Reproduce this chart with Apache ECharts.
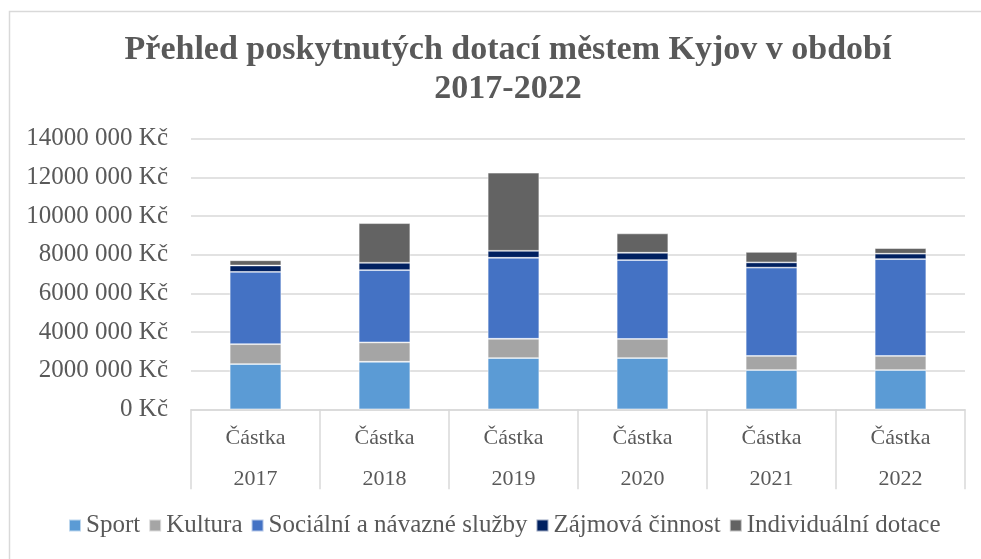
<!DOCTYPE html>
<html>
<head>
<meta charset="utf-8">
<script src="https://cdn.jsdelivr.net/npm/echarts@6/dist/echarts.min.js"></script>
<style>
html,body{margin:0;padding:0;background:#fff;}
#c{width:981px;height:559px;}
</style>
</head>
<body>
<div id="c"></div>
<script>
const years = ['2017', '2018', '2019', '2020', '2021', '2022'];
const rowLabel = 'Částka';
const sport = [2340000, 2460000, 2650000, 2650000, 2030000, 2030000];
const kultura = [1030000, 1000000, 1000000, 990000, 730000, 730000];
const socialni = [3740000, 3740000, 4190000, 4080000, 4570000, 5010000];
const zajmova = [330000, 380000, 360000, 380000, 270000, 280000];
const individualni = [270000, 2050000, 4040000, 1000000, 540000, 290000];
const seriesNames = ['Sport', 'Kultura', 'Sociální a návazné služby', 'Zájmová činnost', 'Individuální dotace'];
const seriesColors = ['#5B9BD5', '#A5A5A5', '#4472C4', '#002060', '#636363'];
const yTicks = [0, 2000000, 4000000, 6000000, 8000000, 10000000, 12000000, 14000000];

const values = [sport, kultura, socialni, zajmova, individualni];
const FONT = 'Liberation Serif';
const TXT = '#595959';

const chart = echarts.init(document.getElementById('c'), null, {renderer: 'canvas'});
chart.setOption({
  backgroundColor: '#fff',
  animation: false,
  textStyle: {fontFamily: FONT},
  graphic: [{
    type: 'rect', silent: true, z: -10,
    shape: {x: 9.5, y: 11.5, width: 1000, height: 600},
    style: {fill: 'none', stroke: '#d9d9d9', lineWidth: 1.5}
  }],
  title: {
    text: 'Přehled poskytnutých dotací městem Kyjov v období\n2017-2022',
    left: 503, top: 26, textAlign: 'center',
    textStyle: {fontFamily: FONT, fontWeight: 'bold', fontSize: 34, color: TXT, lineHeight: 39}
  },
  legend: {
    data: seriesNames,
    left: 68, top: 513,
    padding: 0,
    itemWidth: 12, itemHeight: 12, itemGap: 8,
    icon: 'rect',
    textStyle: {fontFamily: FONT, fontSize: 25, color: TXT}
  },
  grid: {left: 191, right: 16, top: 138.7, bottom: 149.7, containLabel: false},
  xAxis: {
    type: 'category',
    data: years,
    axisLine: {show: true, lineStyle: {color: '#d9d9d9', width: 1.5}},
    axisTick: {show: true, length: 80, interval: 0, lineStyle: {color: '#d9d9d9', width: 1.5}},
    axisLabel: {
      interval: 0, margin: 8,
      formatter: v => rowLabel + '\n' + v,
      fontFamily: FONT, fontSize: 22, color: TXT, lineHeight: 41
    }
  },
  yAxis: {
    type: 'value',
    min: yTicks[0], max: yTicks[yTicks.length - 1], interval: 2000000,
    axisLine: {show: false},
    axisTick: {show: false},
    splitLine: {lineStyle: {color: '#d9d9d9', width: 1.5}},
    axisLabel: {
      margin: 23,
      formatter: v => v === 0 ? '0 Kč' : (v / 1000) + ' 000 Kč',
      fontFamily: FONT, fontSize: 25, color: TXT
    }
  },
  series: seriesNames.map((n, i) => ({
    name: n,
    type: 'bar',
    stack: 'total',
    barWidth: '40%',
    data: values[i],
    itemStyle: {color: seriesColors[i], borderColor: 'rgba(255,255,255,0.6)', borderWidth: 0.8}
  }))
});
</script>
</body>
</html>
